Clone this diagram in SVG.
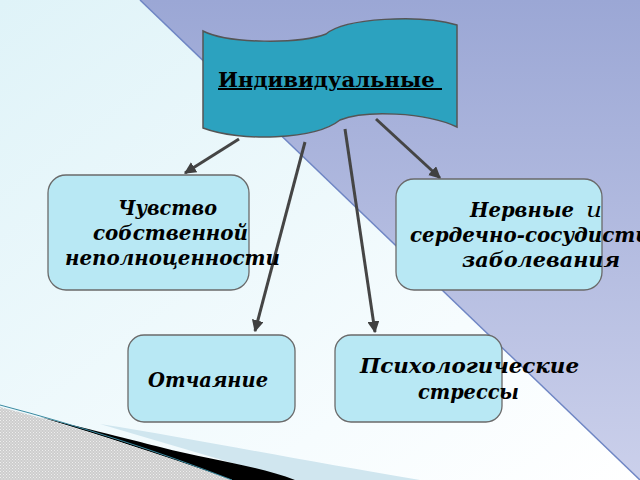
<svg xmlns="http://www.w3.org/2000/svg" width="640" height="480" viewBox="0 0 640 480">
<defs>
<linearGradient id="bgL" x1="0" y1="0" x2="1" y2="1">
<stop offset="0" stop-color="#dff3f8"/>
<stop offset="0.7" stop-color="#f6fcfe"/>
<stop offset="1" stop-color="#ffffff"/>
</linearGradient>
<linearGradient id="bgR" x1="0" y1="0" x2="0" y2="1">
<stop offset="0" stop-color="#9ba7d5"/>
<stop offset="1" stop-color="#cbd0eb"/>
</linearGradient>
<pattern id="hatch" width="3" height="3" patternUnits="userSpaceOnUse">
<rect width="3" height="3" fill="#cdcdcd"/>
<rect x="0" y="0" width="1" height="1" fill="#eeeeee"/>
<rect x="1.5" y="1.5" width="1" height="1" fill="#eeeeee"/>
</pattern>
<marker id="arr" viewBox="0 0 10 10" refX="9" refY="5" markerWidth="4" markerHeight="4" orient="auto" markerUnits="strokeWidth">
<path d="M0,0 L10,5 L0,10 Z" fill="#404040"/>
</marker>
<style>
.box{fill:#b8e8f4;stroke:#6a6a6a;stroke-width:1.3}
.lbl{font-family:"DejaVu Serif","Liberation Serif",serif;font-weight:bold;font-style:italic;font-size:20px;fill:#000}
.con{stroke:#454545;stroke-width:3;fill:none;marker-end:url(#arr)}
</style>
</defs>
<rect width="640" height="480" fill="url(#bgL)"/>
<polygon points="140,0 640,0 640,480" fill="url(#bgR)"/>
<line x1="140" y1="0" x2="640" y2="480" stroke="#6f86c4" stroke-width="1.5"/>
<path d="M100,424 C200,440 300,460 420,480 L290,480 Z" fill="#d0e6ef"/>
<path d="M40,417 C100,432 140,442 160,447 C210,460 260,466 295,480 L232,480 C170,458 110,438 40,417 Z" fill="#000"/>
<path d="M0,407 C80,428 160,454 232,480 L0,480 Z" fill="url(#hatch)"/>
<path d="M0,405 C80,426 160,452 232,480" fill="none" stroke="#3a8aa0" stroke-width="1"/>

<g id="connectors">
<line class="con" x1="239" y1="139" x2="185" y2="173"/>
<line class="con" x1="305" y1="142" x2="255" y2="331"/>
<line class="con" x1="345" y1="129" x2="375" y2="332"/>
<line class="con" x1="376" y1="119" x2="440" y2="178"/>
</g>

<g id="root">
<path d="M203,31 C228,44 300,44 326,34 C345,18 420,14 457,25 L457,127 C425,112 365,110 340,120 C315,140 240,142 203,128 Z" fill="#2ca2bf" stroke="#555" stroke-width="1.5"/>
<text x="218" y="87" font-family="DejaVu Serif, Liberation Serif, serif" font-weight="bold" font-size="20" text-decoration="underline" fill="#000" xml:space="preserve" textLength="224" lengthAdjust="spacingAndGlyphs">Индивидуальные </text>
</g>

<g id="n1">
<rect class="box" x="48" y="175" width="201" height="115" rx="18"/>
<text class="lbl"><tspan x="118" y="215" textLength="99" lengthAdjust="spacingAndGlyphs">Чувство</tspan><tspan x="93" y="240" textLength="155" lengthAdjust="spacingAndGlyphs">собственной</tspan><tspan x="65" y="265" textLength="215" lengthAdjust="spacingAndGlyphs">неполноценности</tspan></text>
</g>

<g id="n2">
<rect class="box" x="396" y="179" width="206" height="111" rx="18"/>
<text class="lbl"><tspan x="470" y="217" textLength="104" lengthAdjust="spacingAndGlyphs">Нервные</tspan><tspan x="586" y="217" font-weight="normal" textLength="16" lengthAdjust="spacingAndGlyphs">и</tspan><tspan x="410" y="242" textLength="258" lengthAdjust="spacingAndGlyphs">сердечно-сосудистые</tspan><tspan x="462" y="267" textLength="158" lengthAdjust="spacingAndGlyphs">заболевания</tspan></text>
</g>

<g id="n3">
<rect class="box" x="128" y="335" width="167" height="87" rx="16"/>
<text class="lbl" x="148" y="387" textLength="120" lengthAdjust="spacingAndGlyphs">Отчаяние</text>
</g>

<g id="n4">
<rect class="box" x="335" y="335" width="167" height="87" rx="16"/>
<text class="lbl"><tspan x="360" y="373" textLength="219" lengthAdjust="spacingAndGlyphs">Психологические</tspan><tspan x="418" y="399" textLength="101" lengthAdjust="spacingAndGlyphs">стрессы</tspan></text>
</g>
</svg>
